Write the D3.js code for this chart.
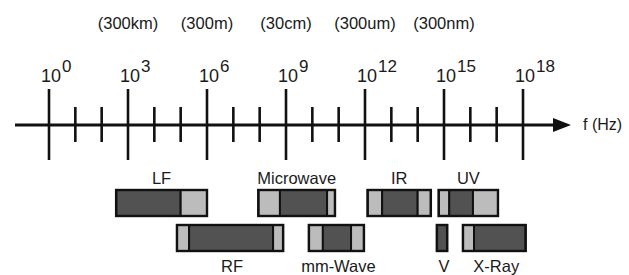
<!DOCTYPE html>
<html>
<head>
<meta charset="utf-8">
<script src="https://cdn.jsdelivr.net/npm/d3@7"></script>
<style>
  body { margin: 0; background: #fff; }
  text { font-family: "Liberation Sans", Arial, Helvetica, sans-serif; fill: #1a1a1a; }
</style>
</head>
<body>
<svg id="chart" width="629" height="275"></svg>
<script>
// frequency decades (log10 Hz)
const decades = d3.range(0, 19);
const majorDecades = [0, 3, 6, 9, 12, 15, 18];
const wavelengthDecades = [3, 6, 9, 12, 15];
const wavelengthLabels = ["(300km)", "(300m)", "(30cm)", "(300um)", "(300nm)"];

// bands: edges in log10 Hz, one shade per segment between edges
const bandNames = ["LF", "Microwave", "IR", "UV", "RF", "mm-Wave", "V", "X-Ray"];
const bandRows = [0, 0, 0, 0, 1, 1, 1, 1];
const bandEdges = [
    [2.55, 5, 6],
    [7.95, 8.77, 10.56, 10.86],
    [12.1, 12.65, 14.0, 14.5],
    [14.8, 15.2, 16.1, 17.05],
    [4.86, 5.32, 8.51, 8.89],
    [9.87, 10.4, 11.47, 11.96],
    [14.73, 15.12],
    [15.72, 16.14, 18.1]
];
const bandShades = [
    ["dark", "light"],
    ["light", "dark", "light"],
    ["light", "dark", "light"],
    ["light", "dark", "light"],
    ["light", "dark", "light"],
    ["light", "dark", "light"],
    ["dark"],
    ["light", "dark"]
];

const shadeColor = { dark: "#525252", light: "#bcbcbc" };

const svg = d3.select("#chart");
const x = d3.scaleLinear().domain([0, 18]).range([49, 523]);

const axisY = 125;
const rowTop = [190, 225];
const barH = 26;

// main axis line with arrow
const axisG = svg.append("g").attr("class", "freq-axis");
axisG.append("line")
    .attr("x1", 15).attr("x2", 556)
    .attr("y1", axisY).attr("y2", axisY)
    .attr("stroke", "#111").attr("stroke-width", 3);
axisG.append("path")
    .attr("d", `M553,${axisY - 7} L571,${axisY} L553,${axisY + 7} Z`)
    .attr("fill", "#111");

// ticks: long at every third decade, short between
axisG.selectAll(".tick")
    .data(decades)
    .enter().append("line")
    .attr("class", "tick")
    .attr("x1", d => x(d)).attr("x2", d => x(d))
    .attr("y1", d => majorDecades.includes(d) ? 89 : 107)
    .attr("y2", d => majorDecades.includes(d) ? 160 : 142)
    .attr("stroke", "#111")
    .attr("stroke-width", 2.6);

// power-of-ten labels
const powLabels = axisG.selectAll(".pow")
    .data(majorDecades)
    .enter().append("text")
    .attr("class", "pow")
    .attr("x", d => x(d) - 8)
    .attr("y", 82)
    .style("font-size", "18px");
powLabels.append("tspan").text("10");
powLabels.append("tspan")
    .attr("dx", 1)
    .attr("dy", -10)
    .style("font-size", "17px")
    .text(d => d);

// wavelength labels
svg.selectAll(".wl")
    .data(wavelengthDecades)
    .enter().append("text")
    .attr("class", "wl")
    .attr("x", d => x(d))
    .attr("y", 29)
    .attr("text-anchor", "middle")
    .style("font-size", "16.5px")
    .text((d, i) => wavelengthLabels[i]);

svg.append("text")
    .attr("x", 583).attr("y", 130)
    .style("font-size", "16px")
    .text("f (Hz)");

// band bars
const bandG = svg.selectAll(".band")
    .data(bandNames)
    .enter().append("g")
    .attr("class", "band");

bandG.selectAll("rect")
    .data((d, i) => bandShades[i].map((s, j) => ({
        shade: s,
        x0: bandEdges[i][j],
        x1: bandEdges[i][j + 1],
        row: bandRows[i]
    })))
    .enter().append("rect")
    .attr("x", d => x(d.x0))
    .attr("width", d => x(d.x1) - x(d.x0))
    .attr("y", d => rowTop[d.row])
    .attr("height", barH)
    .attr("fill", d => shadeColor[d.shade])
    .attr("stroke", "#111")
    .attr("stroke-width", 2);

// outer outline of each band
bandG.append("rect")
    .attr("x", (d, i) => x(bandEdges[i][0]))
    .attr("width", (d, i) => x(bandEdges[i][bandEdges[i].length - 1]) - x(bandEdges[i][0]))
    .attr("y", (d, i) => rowTop[bandRows[i]])
    .attr("height", barH)
    .attr("fill", "none")
    .attr("stroke", "#111")
    .attr("stroke-width", 2.4);

bandG.append("text")
    .attr("x", (d, i) => (x(bandEdges[i][0]) + x(bandEdges[i][bandEdges[i].length - 1])) / 2 + (bandRows[i] ? 2 : 0))
    .attr("y", (d, i) => bandRows[i] ? 272 : 184)
    .attr("text-anchor", "middle")
    .style("font-size", "16.5px")
    .text(d => d);
</script>
</body>
</html>
